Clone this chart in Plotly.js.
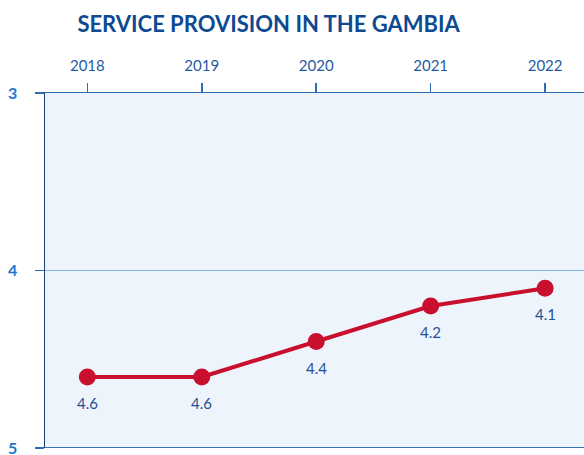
<!DOCTYPE html>
<html>
<head>
<meta charset="utf-8">
<script src="https://cdn.plot.ly/plotly-3.0.1.min.js"></script>
<style>html,body{margin:0;padding:0;background:#fff;}#chart{width:584px;height:455px;}</style>
</head>
<body>
<div id="chart"></div>
<script>
const years = [2018, 2019, 2020, 2021, 2022];
const values = [4.6, 4.6, 4.4, 4.2, 4.1];
const labels = ["4.6", "4.6", "4.4", "4.2", "4.1"];
const yTicks = [3, 4, 5];

const trace = {
  x: years,
  y: values,
  type: 'scatter',
  mode: 'lines+markers',
  line: {color: '#c8102e', width: 4},
  marker: {color: '#c8102e', size: 17},
  cliponaxis: false,
  hoverinfo: 'x+y'
};

const annotations = years.map((yr, i) => ({
  x: yr, y: values[i], xref: 'x', yref: 'y',
  text: labels[i], showarrow: false,
  xanchor: 'center', yanchor: 'middle', yshift: -26,
  font: {family: 'Lato, sans-serif', size: 15, color: '#1f4f94'}
}));

const layout = {
  width: 584, height: 455,
  margin: {l: 45, r: 0, t: 93, b: 7},
  paper_bgcolor: '#ffffff',
  plot_bgcolor: '#eef4fc',
  showlegend: false,
  title: {
    text: '<b>SERVICE PROVISION IN THE GAMBIA</b>',
    font: {family: 'Lato, sans-serif', size: 22, color: '#0d4a92', weight: 900},
    xref: 'container', yref: 'container',
    x: 0.46, y: 0.947, xanchor: 'center', yanchor: 'middle'
  },
  annotations: annotations,
  shapes: [{
    type: 'line', xref: 'paper', yref: 'y',
    x0: 0, x1: 1, y0: yTicks[yTicks.length - 1], y1: yTicks[yTicks.length - 1],
    line: {color: '#3a73b8', width: 2}
  }],
  xaxis: {
    side: 'top',
    range: [2017.63, 2022.34],
    tickvals: years,
    ticktext: years.map(String),
    ticks: 'outside', ticklen: 9, tickwidth: 1.5, tickcolor: '#2c6db5',
    showline: true, linecolor: '#2c6db5', linewidth: 1.5,
    showgrid: false, zeroline: false,
    tickfont: {family: 'Lato, sans-serif', size: 15, color: '#1f5aa3'},
    ticklabelstandoff: 6
  },
  yaxis: {
    range: [5, 3],
    tickvals: yTicks,
    ticktext: yTicks.map(String),
    ticks: 'outside', ticklen: 9, tickwidth: 1.5, tickcolor: '#2c6db5',
    showline: true, linecolor: '#1f3f78', linewidth: 1.5,
    showgrid: true, gridcolor: '#7fb0e3', gridwidth: 1.5,
    zeroline: false,
    ticklabeloverflow: 'allow',
    tickfont: {family: 'Lato, sans-serif', size: 16, color: '#1c78cc', weight: 'bold'},
    ticklabelstandoff: 14
  }
};

Plotly.newPlot('chart', [trace], layout, {displayModeBar: false, staticPlot: true});
</script>
</body>
</html>
